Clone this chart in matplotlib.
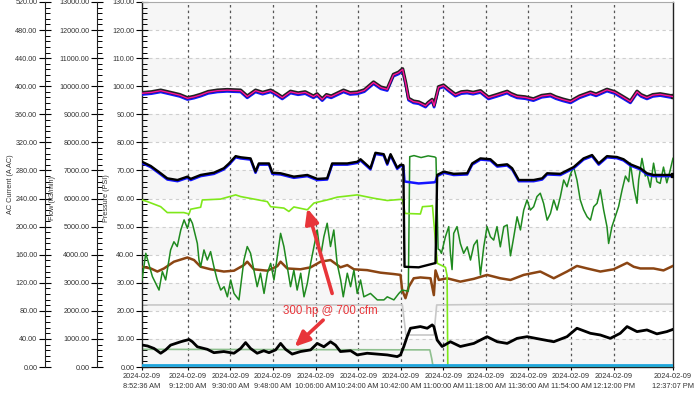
import datetime as dt
import matplotlib
matplotlib.use("Agg")
import matplotlib.pyplot as plt
from matplotlib.ticker import MultipleLocator, FormatStrFormatter
from matplotlib.transforms import offset_copy

plt.rcParams['font.family'] = ['Liberation Sans', 'DejaVu Sans']

# ---------------- data (time = minutes after 2024-02-09 08:52:36) ----------------
start_time = "2024-02-09 08:52:36"
end_time = "2024-02-09 12:37:07"
tick_times = ["09:12:00", "09:30:00", "09:48:00", "10:06:00", "10:24:00", "10:42:00",
              "11:00:00", "11:18:00", "11:36:00", "11:54:00", "12:12:00"]

# upper pressure (PSI)
t_top = [0, 4, 7.9, 12, 16, 19.2, 22, 24.8, 28, 31.9, 36, 41.7, 44.5, 48, 51, 54.4, 57, 59.3, 62.8, 66,
         69, 72.5, 74, 76.2, 78, 80, 85.2, 88, 91, 94, 97.9, 101, 103.7, 106.3, 108.5, 110.2, 111.5, 112.7,
         114.8, 117, 119.9, 121, 122.7, 123.5, 125.4, 127.5, 130, 132.5, 135, 137.5, 140, 143.1, 146.5, 150,
         154.4, 156, 158.6, 162, 165.5, 169, 172.7, 175, 178, 181.2, 185, 189.6, 192, 196.6, 200, 203,
         206.5, 209.3, 211, 213.5, 216, 219.1, 224.5]
v_top = [97.5, 97.8, 98.4, 97.6, 96.8, 95.7, 96.2, 96.9, 97.9, 98.4, 98.6, 98.4, 96.3, 98.4, 97.6, 98.4,
         97.2, 95.9, 98.0, 97.4, 97.8, 96.3, 97.1, 95.3, 96.8, 96.3, 98.4, 97.5, 97.7, 98.5, 101.3, 99.5,
         98.9, 104.0, 104.8, 106.0, 101.0, 95.5, 94.5, 94.2, 93.0, 94.0, 95.1, 93.0, 99.6, 100.2, 98.5, 96.9,
         97.8, 98.0, 97.6, 98.2, 95.9, 96.8, 98.0, 97.2, 96.3, 96.0, 95.3, 96.5, 96.9, 96.0, 95.2, 94.5,
         96.3, 97.7, 97.0, 98.7, 97.8, 96.3, 94.5, 98.0, 96.8, 95.9, 96.8, 97.1, 96.3]

# middle pressure (PSI), black trace and blue trace
t_mid = [0, 3.7, 7.9, 10.7, 15, 19.2, 20.6, 24.8, 30.4, 34.6, 36.8, 39.6, 41.7, 45.9, 48.0, 49.4, 53.7,
         55.1, 58.6, 64.2, 69.9, 74.1, 78.3, 80.4, 86.8, 91.0, 92.4, 96.6, 98.7, 102.2, 103.7, 105.1,
         107.9, 109.3, 110.5, 111.0, 117, 123.5, 124.1, 124.8, 127.6, 131.8, 137.5, 139.6, 143.1, 147.3,
         150.2, 154.4, 156.5, 159.3, 165.6, 169.2, 171.3, 176.9, 182.5, 186.7, 190.3, 193.1, 196.6, 200.8,
         203.6, 206.5, 210.7, 213.5, 216.3, 224.5]
v_mid_black = [73.1, 71.6, 69.0, 67.2, 66.6, 67.8, 67.0, 68.4, 69.2, 70.8, 72.5, 75.1, 74.7, 74.3, 69.6,
               72.5, 72.5, 69.2, 69.0, 67.8, 68.4, 67.0, 67.2, 72.5, 72.5, 73.1, 74.0, 70.8, 76.3, 75.8,
               72.5, 75.8, 71.0, 72.0, 71.9, 35.7, 35.5, 36.9, 37.0, 68.4, 69.6, 68.8, 69.0, 72.5, 74.3,
               74.0, 71.8, 72.2, 70.8, 66.6, 66.6, 67.2, 69.0, 68.8, 71.2, 74.3, 75.5, 72.5, 75.1, 74.8,
               74.0, 72.2, 70.8, 69.0, 68.4, 68.4]
v_mid_blue = [73.1, 71.6, 69.0, 67.2, 66.6, 67.8, 67.0, 68.4, 69.2, 70.8, 72.5, 75.1, 74.7, 74.3, 69.6,
              72.5, 72.5, 69.2, 69.0, 67.8, 68.4, 67.0, 67.2, 72.5, 72.5, 73.1, 74.0, 70.8, 76.3, 75.8,
              72.5, 75.8, 71.0, 72.0, 71.9, 66.5, 65.8, 66.2, 66.4, 68.4, 69.6, 68.8, 69.0, 72.5, 74.3,
              74.0, 71.8, 72.2, 70.8, 66.6, 66.6, 67.2, 69.0, 68.8, 71.2, 74.3, 75.5, 72.5, 75.1, 74.8,
              74.0, 72.2, 70.8, 69.0, 68.4, 68.4]

# light green trace
t_lime = [0, 2.3, 7.9, 10.7, 17.7, 19.9, 20.6, 24.8, 25.5, 33.2, 39.6, 41.7, 53.0, 54.4, 60.0, 62.1, 64.2,
          69.9, 72.7, 78.3, 82.6, 91.0, 98.0, 103.7, 109.3, 110.2, 111.2, 117.7, 118.6, 122.0, 122.8,
          124.9, 128.3, 129.0, 129.3, 224.5]
v_lime = [59.5, 58.9, 57.1, 55.0, 55.0, 54.5, 56.2, 56.9, 59.5, 59.8, 61.3, 60.7, 58.9, 57.1, 56.6, 55.4,
          57.0, 56.0, 58.4, 59.5, 60.5, 61.3, 60.1, 59.3, 59.7, 59.5, 54.7, 54.5, 57.1, 57.3, 57.5, 36.9,
          35.5, 32.5, 0.0, 0.0]

# dark green trace
t_green = [0, 1.6, 4.4, 7.2, 8.6, 10.0, 12.1, 13.5, 14.9, 16.4, 17.8, 19.2, 20.3, 21.3, 22.0, 23.4, 24.1,
           24.8, 26.2, 27.6, 29.0, 30.4, 31.8, 33.3, 34.7, 36.1, 37.5, 38.9, 41.0, 42.4, 43.1, 44.5, 45.9,
           47.3, 48.7, 50.1, 51.6, 53.0, 54.4, 55.8, 57.2, 58.6, 60.0, 61.4, 62.8, 64.2, 65.6, 67.1, 68.5,
           69.9, 71.3, 72.7, 74.1, 75.5, 76.9, 78.3, 79.7, 81.1, 82.5, 84.0, 85.1, 86.8, 88.2, 89.6, 91.0,
           92.4, 93.8, 96.6, 99.5, 102.3, 103.7, 106.5, 108.6, 110.0, 112.6, 113.2, 115.0, 118.0, 121.0,
           123.8, 124.3, 125.2, 125.9, 126.6, 128.3, 129.7, 130.4, 131.1, 131.8, 133.2, 134.6, 136.0, 137.5,
           138.9, 140.3, 141.7, 143.1, 144.5, 145.9, 147.3, 148.7, 150.1, 151.5, 153.0, 154.4, 155.8, 157.2,
           158.6, 160.0, 161.4, 162.8, 164.2, 165.6, 167.0, 168.4, 169.8, 171.3, 172.7, 174.1, 175.5, 176.9,
           178.3, 179.7, 181.1, 182.5, 183.9, 185.3, 186.7, 188.2, 189.6, 191.0, 192.4, 193.8, 195.2, 196.6,
           197.3, 198.7, 200.1, 201.5, 203.0, 204.4, 205.8, 206.5, 207.9, 209.3, 210.0, 211.4, 212.8, 213.5,
           214.9, 216.3, 217.7, 219.1, 220.5, 221.9, 223.3, 224.5]
v_green = [31.0, 40.5, 32.2, 27.4, 34.0, 31.0, 41.7, 44.6, 42.9, 48.8, 52.4, 49.4, 52.9, 51.2, 48.8, 44.0,
           38.1, 35.7, 41.7, 38.1, 41.1, 35.7, 31.0, 27.4, 28.6, 25.0, 31.0, 26.2, 23.9, 33.4, 38.1, 42.9,
           40.5, 34.5, 28.6, 33.4, 26.2, 33.4, 36.9, 31.0, 39.3, 47.6, 42.9, 35.7, 28.6, 34.5, 27.4, 33.4,
           25.0, 29.8, 36.9, 42.9, 48.8, 39.3, 46.4, 51.2, 42.9, 48.8, 36.9, 31.0, 25.0, 33.4, 28.6, 34.5,
           26.2, 31.0, 25.0, 26.2, 23.9, 23.9, 25.0, 23.9, 26.2, 27.4, 27.0, 74.9, 75.3, 74.6, 75.2, 74.8,
           74.5, 42.0, 41.7, 40.5, 46.4, 50.0, 40.5, 34.7, 47.6, 50.0, 44.0, 40.5, 42.8, 38.1, 43.4, 45.2,
           32.8, 42.8, 50.0, 46.4, 45.2, 50.0, 42.8, 50.0, 50.6, 39.6, 46.4, 53.5, 48.8, 55.9, 59.5, 55.9,
           57.1, 60.7, 61.9, 58.3, 52.3, 54.7, 59.5, 55.9, 60.7, 66.6, 64.2, 68.5, 71.3, 66.6, 59.5, 56.0,
           53.5, 52.3, 57.1, 58.3, 63.1, 55.9, 50.0, 44.0, 50.0, 53.5, 57.1, 63.1, 68.0, 66.0, 72.6, 64.2,
           58.3, 66.6, 74.3, 68.0, 69.0, 64.0, 72.6, 66.0, 65.4, 71.2, 65.6, 70.0, 74.3]

# brown trace
t_brown = [0, 3.7, 6.5, 9.3, 13.5, 19.2, 22.0, 24.8, 29.0, 34.6, 38.9, 43.1, 44.5, 47.3, 53.0, 57.2, 58.6,
           61.4, 67.0, 71.3, 75.5, 79.7, 83.9, 86.8, 89.6, 95.2, 100.8, 106.5, 109.3, 110.0, 111.4, 112.8,
           114.9, 117.7, 122.0, 123.4, 124.1, 125.5, 129.0, 134.6, 140.3, 145.9, 151.5, 155.8, 161.4,
           168.4, 174.1, 179.7, 183.9, 188.2, 193.8, 199.4, 205.1, 207.9, 210.7, 216.3, 220.5, 224.5]
v_brown = [35.7, 35.1, 34.0, 35.1, 37.5, 39.0, 38.1, 35.7, 34.8, 34.0, 34.3, 36.3, 37.5, 34.8, 34.3, 35.9,
           37.5, 35.1, 34.8, 35.5, 37.5, 38.1, 35.5, 36.3, 34.8, 34.5, 33.6, 33.1, 32.8, 27.4, 24.5, 28.6,
           31.6, 31.9, 31.6, 25.6, 34.4, 31.0, 31.6, 30.4, 31.4, 32.8, 31.6, 31.0, 32.8, 34.0, 31.6, 34.0,
           36.0, 35.1, 34.0, 34.8, 37.1, 35.7, 35.1, 35.1, 34.4, 36.0]

# light grey trace
t_grey = [0, 110.1, 111.6, 123.4, 124.6, 160.0, 224.5]
v_grey = [22.1, 22.1, 11.4, 11.4, 22.1, 22.4, 22.4]

# sage trace
t_sage = [0, 121.7, 122.5, 123.1, 224.5]
v_sage = [6.3, 6.1, 3.0, 0.0, 0.0]

# cyan trace
t_cyan = [0, 224.5]
v_cyan = [0.6, 0.6]

# lower black trace
t_low = [0.2, 2.3, 5.1, 7.9, 10.0, 12.1, 16.4, 19.9, 21.3, 23.4, 27.6, 30.4, 34.6, 38.9, 41.7, 43.8, 45.9,
         48.7, 51.5, 53.7, 56.5, 58.6, 60.7, 63.5, 67.0, 71.3, 74.1, 76.9, 79.7, 81.8, 83.9, 88.2, 91.0,
         95.2, 99.4, 103.7, 107.9, 109.3, 110.7, 112.1, 113.5, 117.7, 120.6, 122.7, 123.4, 124.8, 126.9,
         130.4, 134.6, 140.3, 145.9, 150.2, 154.4, 158.6, 162.8, 168.4, 174.1, 179.7, 183.9, 189.6, 193.8,
         198.0, 202.2, 205.1, 209.3, 213.5, 217.7, 221.9, 224.5]
v_low = [7.8, 7.5, 6.6, 4.9, 6.1, 7.8, 9.0, 9.8, 9.0, 7.2, 6.3, 5.1, 5.5, 4.9, 6.6, 8.7, 6.6, 4.9, 5.8,
         5.1, 6.1, 8.4, 6.3, 4.6, 5.5, 6.1, 8.4, 7.2, 9.0, 7.8, 5.5, 5.8, 4.3, 4.9, 4.6, 4.3, 3.7, 4.3,
         7.3, 10.8, 13.8, 14.4, 13.8, 15.0, 14.4, 9.6, 7.3, 9.0, 7.3, 8.4, 10.8, 9.0, 8.4, 10.2, 10.8, 9.9,
         9.0, 10.8, 13.8, 12.0, 11.4, 10.2, 12.0, 14.4, 12.6, 13.2, 11.8, 12.6, 13.4]

annotation_text = "300 hp @ 700 cfm"

# ---------------- figure ----------------
W, H = 700, 398
fig = plt.figure(figsize=(W / 100, H / 100), dpi=100)
L, R, B, T = 142, 673, 367, 2
ax = fig.add_axes([L / W, (H - B) / H, (R - L) / W, (B - T) / H])

t0 = dt.datetime.strptime(start_time, "%Y-%m-%d %H:%M:%S")
t1 = dt.datetime.strptime(end_time, "%Y-%m-%d %H:%M:%S")
total = (t1 - t0).total_seconds() / 60
ax.set_xlim(0, total)
ax.set_ylim(0, 130)

# alternating bands
for i in range(0, 13, 2):
    ax.axhspan(i * 10, i * 10 + 10, color='#f6f6f6', zorder=0, lw=0)
ax.set_facecolor('white')

tick_dts = [t0] + [dt.datetime.combine(t0.date(), dt.datetime.strptime(s, "%H:%M:%S").time())
                   for s in tick_times] + [t1]
tick_pos = [(d - t0).total_seconds() / 60 for d in tick_dts]
tick_lab = [f"{d:%Y-%m-%d}\n{(d.hour % 12) or 12}:{d:%M:%S} {d:%p}" for d in tick_dts]
ax.set_xticks(tick_pos)
ax.set_xticklabels(tick_lab, fontsize=5.3, color='#333333', linespacing=1.6)
ax.tick_params(axis='x', direction='out', length=2.5, pad=1.5, width=0.8)

for p in tick_pos[1:-1]:
    ax.axvline(p, color='#555555', lw=0.9, ls=(0, (2, 2.5)), zorder=1)
for y in range(10, 130, 10):
    ax.axhline(y, color='#cfcfcf', lw=0.8, ls=(0, (3, 3)), zorder=1)

# y axes
def style_yaxis(a, major, minor):
    a.yaxis.set_major_locator(MultipleLocator(major))
    a.yaxis.set_minor_locator(MultipleLocator(minor))
    a.yaxis.set_major_formatter(FormatStrFormatter('%.2f'))
    a.tick_params(axis='y', which='major', direction='inout', length=8, width=0.8,
                  labelsize=5.2, labelcolor='#333333', pad=1.5)
    a.tick_params(axis='y', which='minor', direction='in', length=3.5, width=0.7)

style_yaxis(ax, 10, 2)
for s in ['left', 'bottom', 'right']:
    ax.spines[s].set_color('#222222')
    ax.spines[s].set_linewidth(1.0)
ax.spines['top'].set_color('#aaaaaa')

for lim, major, minor, off in [((0, 13000), 1000, 200, 45), ((0, 520), 40, 8, 97)]:
    a = ax.twinx()
    a.set_ylim(*lim)
    a.spines['right'].set_visible(False)
    a.spines['top'].set_visible(False)
    a.spines['bottom'].set_visible(False)
    a.spines['left'].set_visible(True)
    a.spines['left'].set_position(('axes', -off / (R - L)))
    a.spines['left'].set_color('#222222')
    a.yaxis.set_ticks_position('left')
    style_yaxis(a, major, minor)

fig.text(11 / W, 1 - 184 / H, "AC Current (A AC)", rotation=90, fontsize=5.2, color='#333333',
         ha='center', va='center')
fig.text(52 / W, 1 - 198 / H, "Flow (ft3/min)", rotation=90, fontsize=5.2, color='#333333',
         ha='center', va='center')
fig.text(106 / W, 1 - 198 / H, "Pressure (PSI)", rotation=90, fontsize=5.2, color='#333333',
         ha='center', va='center')

down = offset_copy(ax.transData, fig=fig, x=0, y=-1.2, units='dots')
up = offset_copy(ax.transData, fig=fig, x=0, y=0.6, units='dots')

ax.plot(t_grey, v_grey, color='#c8c8c8', lw=1.2, zorder=2)
ax.plot(t_sage, v_sage, color='#8fc08f', lw=1.2, zorder=2)
ax.plot(t_brown, v_brown, color='#8b4513', lw=1.8, zorder=3)
ax.plot(t_green, v_green, color='#1f8a1f', lw=1.1, zorder=3)
ax.plot(t_lime, v_lime, color='#7fe81a', lw=1.2, zorder=3)
ax.plot(t_low, v_low, color='black', lw=2.0, zorder=4)
ax.plot(t_cyan, v_cyan, color='#1ea5dc', lw=2.0, zorder=4)
ax.plot(t_mid, v_mid_blue, color='#1414ff', lw=1.8, zorder=4, transform=down)
ax.plot(t_mid, v_mid_black, color='black', lw=1.7, zorder=5, marker='s', markevery=[-1], ms=3)
ax.plot(t_top, v_top, color='#1414ff', lw=2.0, zorder=4, transform=down)
ax.plot(t_top, v_top, color='#222222', lw=2.4, zorder=5, transform=up, marker='s', markevery=[-1], ms=3)
ax.plot(t_top, v_top, color='#ff10a0', lw=1.0, zorder=6)

red = '#e8353a'
ax.text(79.8, 20.0, annotation_text, color=red, fontsize=8.3, ha='center', va='center', zorder=7)
for tail, head in [((80.4, 26.2), (69.9, 56.5)), ((76.6, 16.7), (64.5, 7.2))]:
    ax.annotate('', xy=head, xytext=tail, zorder=7,
                arrowprops=dict(arrowstyle='-|>,head_width=0.4,head_length=0.9', color=red, lw=2.6,
                                shrinkA=0, shrinkB=0))

fig.savefig('out.png', dpi=100)
